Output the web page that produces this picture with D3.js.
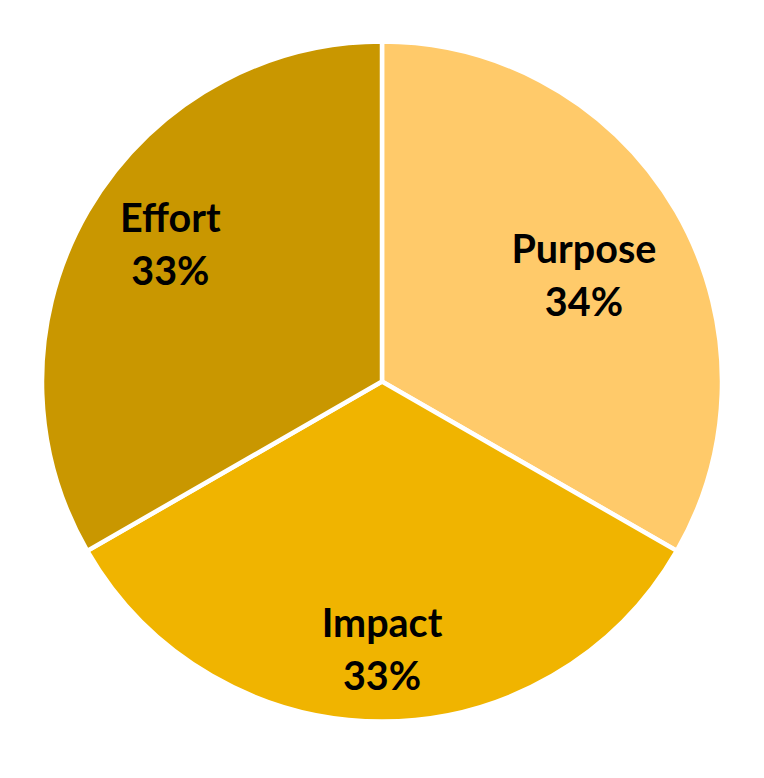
<!DOCTYPE html>
<html>
<head>
<meta charset="utf-8">
<script src="https://cdn.jsdelivr.net/npm/d3@7"></script>
<style>
	body { margin: 0; background: #ffffff; }
	svg text { font-family: Lato, "Open Sans", sans-serif; font-weight: bold; fill: #000; }
</style>
</head>
<body>
<svg id="chart" width="764" height="778"></svg>
<script>
	// datos del pastel (sentido horario desde arriba)
	var categories = ["Purpose", "Impact", "Effort"];
	var values = [33.3, 33.4, 33.3];
	var pctLabels = ["34%", "33%", "33%"];     // texto tal como aparece
	var colors = ["#FFCA6A", "#F0B400", "#C99700"];

	var cx = 382, cy = 381.5, radius = 340;
	// posicion de las etiquetas: distancia al centro y giro (grados) respecto a la bisectriz
	var labelR = [228, 268, 252];
	var labelShift = [2.4, 0, 2.8];

	var svg = d3.select("#chart");
	var g = svg.append("g").attr("transform", "translate(" + cx + "," + cy + ")");

	var pie = d3.pie().sort(null).value(function(d, i) { return values[i]; });
	var arcs = pie(categories);

	var arc = d3.arc().innerRadius(0).outerRadius(radius);

	g.selectAll("path.slice")
		.data(arcs)
		.enter().append("path")
		.attr("class", "slice")
		.attr("d", arc)
		.attr("fill", function(d, i) { return colors[i]; })
		.attr("stroke", "#ffffff")
		.attr("stroke-width", 4.5)
		.attr("stroke-linejoin", "miter");

	var labels = g.selectAll("text.lbl")
		.data(arcs)
		.enter().append("text")
		.attr("class", "lbl")
		.attr("text-anchor", "middle")
		.style("font-size", "39.5px")
		.attr("transform", function(d, i) {
			var a = (d.startAngle + d.endAngle) / 2 + labelShift[i] * Math.PI / 180;
			var x = Math.sin(a) * labelR[i];
			var y = -Math.cos(a) * labelR[i];
			return "translate(" + x + "," + y + ")";
		});

	labels.append("tspan")
		.attr("x", 0)
		.attr("y", -12.5)
		.text(function(d, i) { return categories[i]; });

	labels.append("tspan")
		.attr("x", 0)
		.attr("y", 40.5)
		.text(function(d, i) { return pctLabels[i]; });
</script>
</body>
</html>
